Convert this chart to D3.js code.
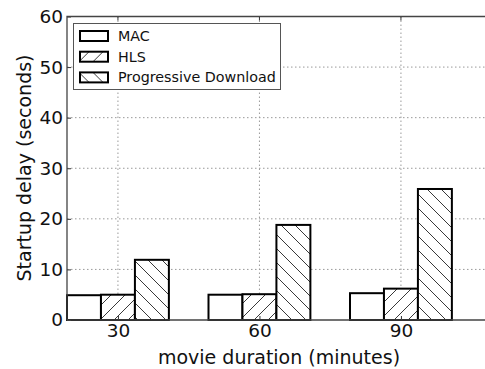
<!DOCTYPE html>
<html>
<head>
<meta charset="utf-8">
<script src="https://cdn.jsdelivr.net/npm/d3@7"></script>
<style>
	html, body { margin: 0; padding: 0; background: #fff; }
	svg { display: block; font-family: 'DejaVu Sans', sans-serif; }
	.axis_title { font-size: 19px; fill: #111; }
	.legend_txt { font-size: 14.3px; fill: #111; }
</style>
</head>
<body>
<div id="chart"></div>
<script>
const categories = ['30', '60', '90'];
const seriesNames = ['MAC', 'HLS', 'Progressive Download'];
const macValues = [4.9, 5.0, 5.3];
const hlsValues = [5.0, 5.1, 6.2];
const pdValues = [11.9, 18.8, 25.9];
const yTicks = [0, 10, 20, 30, 40, 50, 60];

const seriesValues = [macValues, hlsValues, pdValues];
const fills = ['#fff', 'url(#hatchFwd)', 'url(#hatchBack)'];

const W = 485, H = 369;
const m = { top: 16.5, left: 67, bottom: 320 };
const barW = 0.24;

const svg = d3.select('#chart').append('svg')
	.attr('width', W)
	.attr('height', H);

// hatch patterns
const defs = svg.append('defs');
const hatch = (id, d) => {
	const p = defs.append('pattern')
		.attr('id', id)
		.attr('patternUnits', 'userSpaceOnUse')
		.attr('width', 14)
		.attr('height', 14);
	p.append('rect').attr('width', 14).attr('height', 14).attr('fill', '#fff');
	p.append('path').attr('d', d).attr('stroke', '#222').attr('stroke-width', 0.9).attr('fill', 'none');
};
hatch('hatchFwd', 'M-1,1 L1,-1 M0,14 L14,0 M13,15 L15,13');
hatch('hatchBack', 'M-1,13 L1,15 M0,0 L14,14 M13,-1 L15,1');

// scales
const x = d3.scaleLinear().domain([0, 3]).range([m.left, m.left + 3 * 141.5]);
const y = d3.scaleLinear().domain([0, 60]).range([m.bottom, m.top]);
const tickPos = (d, i) => x(i + 1.5 * barW);

// grid
const grid = svg.append('g')
	.attr('stroke', '#999')
	.attr('stroke-width', 1)
	.attr('stroke-dasharray', '1.5,2.5');
grid.selectAll('.gy')
	.data(yTicks.slice(1, -1))
	.enter()
	.append('line')
	.attr('x1', m.left).attr('x2', W)
	.attr('y1', d => y(d)).attr('y2', d => y(d));
grid.selectAll('.gx')
	.data(categories)
	.enter()
	.append('line')
	.attr('x1', tickPos).attr('x2', tickPos)
	.attr('y1', m.top).attr('y2', m.bottom);

// bars
seriesValues.forEach((vals, s) => {
	svg.append('g')
		.selectAll('rect')
		.data(vals)
		.enter()
		.append('rect')
		.attr('x', (d, i) => x(i + s * barW))
		.attr('y', d => y(d))
		.attr('width', x(barW) - x(0))
		.attr('height', d => y(0) - y(d))
		.attr('fill', fills[s])
		.attr('stroke', '#000')
		.attr('stroke-width', 2);
});

// axes
const styleAxis = g => {
	g.attr('font-family', null).attr('font-size', null);
	g.select('.domain').remove();
	g.selectAll('text')
		.attr('fill', '#111')
		.style('font-family', "'DejaVu Sans', sans-serif")
		.style('font-size', '18.5px');
	g.selectAll('line').attr('stroke', '#333');
};

const yAxis = d3.axisLeft(y).tickValues(yTicks).tickSize(-4).tickPadding(4);
svg.append('g')
	.attr('transform', `translate(${m.left},0)`)
	.call(yAxis)
	.call(styleAxis)
	.selectAll('text').attr('dy', '0.32em');

const xAxis = d3.axisBottom(x).tickValues(categories.map((d, i) => i + 1.5 * barW))
	.tickFormat((d, i) => categories[i]).tickSize(-4).tickPadding(4);
svg.append('g')
	.attr('transform', `translate(0,${m.bottom})`)
	.call(xAxis)
	.call(styleAxis);

// top ticks
svg.append('g')
	.selectAll('line')
	.data(categories)
	.enter()
	.append('line')
	.attr('x1', tickPos).attr('x2', tickPos)
	.attr('y1', m.top).attr('y2', m.top + 4)
	.attr('stroke', '#333');

// spines
svg.append('path')
	.attr('d', `M${W},${m.top} H${m.left} V${m.bottom} H${W}`)
	.attr('fill', 'none')
	.attr('stroke', '#444')
	.attr('stroke-width', 1.3);

// titles
svg.append('text')
	.attr('class', 'axis_title')
	.attr('x', 279).attr('y', 364)
	.attr('text-anchor', 'middle')
	.text('movie duration (minutes)');
svg.append('text')
	.attr('class', 'axis_title')
	.attr('transform', 'translate(31,168) rotate(-90)')
	.attr('text-anchor', 'middle')
	.text('Startup delay (seconds)');

// legend
const lg = svg.append('g');
lg.append('rect')
	.attr('x', 73.5).attr('y', 23.5)
	.attr('width', 207).attr('height', 66)
	.attr('fill', '#fff')
	.attr('stroke', '#555')
	.attr('stroke-width', 1);
const items = lg.selectAll('.item')
	.data(seriesNames)
	.enter()
	.append('g')
	.attr('transform', (d, i) => `translate(0,${36 + i * 20.7})`);
items.append('rect')
	.attr('x', 80).attr('y', -5)
	.attr('width', 28).attr('height', 10)
	.attr('fill', (d, i) => fills[i])
	.attr('stroke', '#000')
	.attr('stroke-width', 2);
items.append('text')
	.attr('class', 'legend_txt')
	.attr('x', 118).attr('y', 5)
	.text(d => d);
</script>
</body>
</html>
